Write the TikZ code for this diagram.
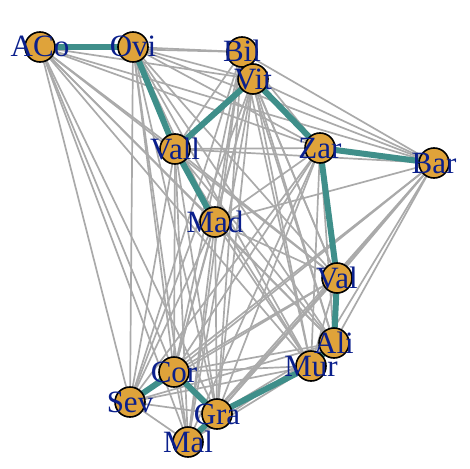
\documentclass[tikz,border=0pt]{standalone}
\usepackage{fontspec}
\setmainfont{Liberation Serif}
\definecolor{mstc}{HTML}{3F8F8A}
\definecolor{vfill}{HTML}{DFA33A}
\definecolor{labc}{HTML}{0A1F8C}
\definecolor{gedge}{HTML}{AAAAAA}
\tikzset{
  grayedge/.style={draw=gedge, line width=1.7pt},
  mstedge/.style={draw=mstc, line width=6pt},
  vtx/.style={circle, draw=black, line width=1.6pt, fill=vfill, minimum size=30pt, inner sep=0pt},
  lab/.style={text=labc, font=\fontsize{31}{31}\selectfont, inner sep=0pt, anchor=base, yshift=-10pt}
}
\begin{document}
\begin{tikzpicture}[x=1pt,y=-1pt]
\useasboundingbox (0,0) rectangle (470,468);
\coordinate (ACo) at (40,47);
\coordinate (Ovi) at (133,47);
\coordinate (Bil) at (242,52);
\coordinate (Vit) at (253,79);
\coordinate (Vall) at (175,149);
\coordinate (Zar) at (320,148);
\coordinate (Bar) at (434,163);
\coordinate (Mad) at (215,222);
\coordinate (Val) at (337,278);
\coordinate (Ali) at (334,343);
\coordinate (Mur) at (311,366);
\coordinate (Cor) at (174,372);
\coordinate (Sev) at (130,402);
\coordinate (Gra) at (217,414);
\coordinate (Mal) at (188,442);
\foreach \a [count=\i] in {ACo,Ovi,Bil,Vit,Vall,Zar,Bar,Mad,Val,Ali,Mur,Cor,Sev,Gra,Mal}{
  \foreach \b [count=\j] in {ACo,Ovi,Bil,Vit,Vall,Zar,Bar,Mad,Val,Ali,Mur,Cor,Sev,Gra,Mal}{
    \ifnum\j>\i \draw[grayedge] (\a) -- (\b); \fi
  }
}
\foreach \a/\b in {ACo/Ovi,Ovi/Vall,Vall/Vit,Vit/Bil,Vit/Zar,Zar/Bar,Zar/Val,Val/Ali,Vall/Mad,Ali/Mur,Mur/Gra,Gra/Cor,Cor/Sev,Gra/Mal}{
  \draw[mstedge] (\a) -- (\b);
}
\foreach \a in {ACo,Ovi,Bil,Vit,Vall,Zar,Bar,Mad,Val,Ali,Mur,Cor,Sev,Gra,Mal}{
  \node[vtx] (n\a) at (\a) {};
}
\foreach \a in {ACo,Ovi,Bil,Vit,Vall,Zar,Bar,Mad,Val,Ali,Mur,Cor,Sev,Gra,Mal}{
  \node[lab] (l\a) at (\a) {\a};
}
\end{tikzpicture}
\end{document}
